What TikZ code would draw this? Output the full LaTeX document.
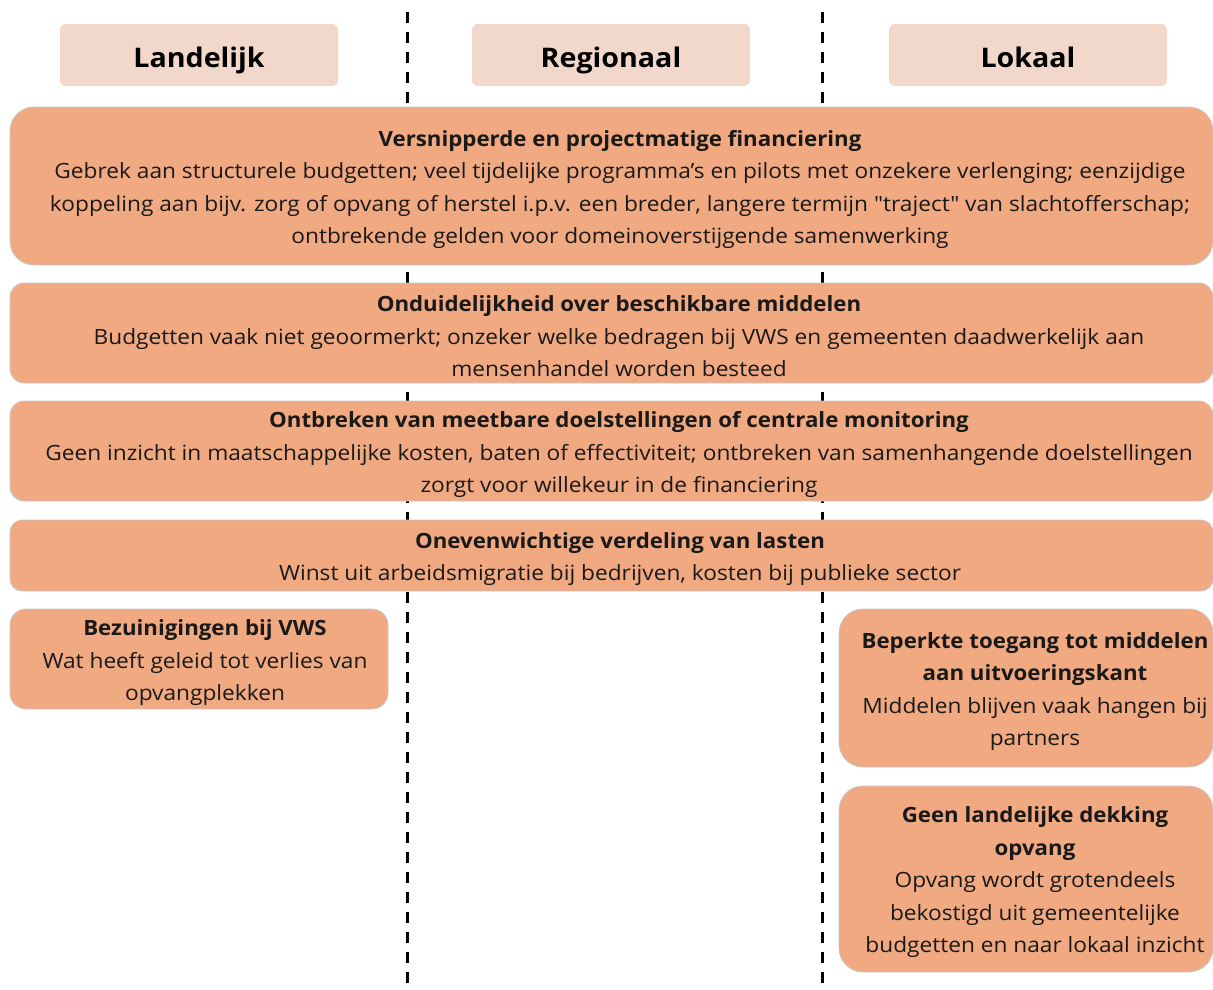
\documentclass[tikz,border=0pt]{standalone}
\usepackage{fontspec}
\setmainfont{Open Sans}[Ligatures=TeXOff,FakeStretch=1.08,BoldFeatures={FakeStretch=1.06}]
\definecolor{boxfill}{HTML}{F1A982}
\definecolor{headfill}{HTML}{F2D8CB}
\definecolor{boxline}{HTML}{C8C8C8}
\tikzset{head/.style={fill=headfill,rounded corners=6pt,minimum width=278pt,minimum height=62pt,text height=28pt,text depth=4pt,font=\fontsize{27}{32}\selectfont\bfseries}}
\tikzset{bar/.style={fill=boxfill,draw=boxline,line width=0.8pt,inner sep=0pt,rounded corners=#1}}
\tikzset{bartext/.style={align=center,inner sep=0pt,text=black!90,font=\fontsize{21}{32.5}\selectfont}}
\tikzset{divider/.style={draw,line width=3pt,dash pattern=on 11pt off 9pt}}

\begin{document}
\begin{tikzpicture}[x=1pt,y=-1pt]
    \useasboundingbox (0,0) rectangle (1213,990);

    % kolomgrenzen
    \foreach \x in {407,822}{
      \draw[divider] (\x,12) -- (\x,990);
    }

    % kolomkoppen
    \node[head] (landelijk) at (199,55) {Landelijk};
    \node[head] (regionaal) at (611,55) {Regionaal};
    \node[head] (lokaal) at (1028,55) {Lokaal};

    % brede balken over alle niveaus
    \node[bar=24pt,minimum width=1203pt,minimum height=158pt] (versnipperd) at (611.5,186) {};
    \node[bartext] (versnipperd-t) at (620,189.5) {\textbf{Versnipperde en projectmatige financiering}\\
      Gebrek aan structurele budgetten; veel tijdelijke programma’s en pilots met onzekere verlenging; eenzijdige\\
      koppeling aan bijv. zorg of opvang of herstel i.p.v. een breder, langere termijn "traject" van slachtofferschap;\\
      ontbrekende gelden voor domeinoverstijgende samenwerking};

    \node[bar=14pt,minimum width=1203pt,minimum height=100pt] (middelen) at (611.5,333) {};
    \node[bartext] (middelen-t) at (619,336.5) {\textbf{Onduidelijkheid over beschikbare middelen}\\
      Budgetten vaak niet geoormerkt; onzeker welke bedragen bij VWS en gemeenten daadwerkelijk aan\\
      mensenhandel worden besteed};

    \node[bar=14pt,minimum width=1203pt,minimum height=100pt] (doelen) at (611.5,451) {};
    \node[bartext] (doelen-t) at (619,454.5) {\textbf{Ontbreken van meetbare doelstellingen of centrale monitoring}\\
      Geen inzicht in maatschappelijke kosten, baten of effectiviteit; ontbreken van samenhangende doelstellingen\\
      zorgt voor willekeur in de financiering};

    \node[bar=12pt,minimum width=1203pt,minimum height=71pt] (lasten) at (611.5,555.5) {};
    \node[bartext] (lasten-t) at (620,559) {\textbf{Onevenwichtige verdeling van lasten}\\
      Winst uit arbeidsmigratie bij bedrijven, kosten bij publieke sector};

    % landelijk
    \node[bar=16pt,minimum width=378pt,minimum height=100pt] (vws) at (199,659) {};
    \node[bartext] (vws-t) at (205,663) {\textbf{Bezuinigingen bij VWS}\\
      Wat heeft geleid tot verlies van\\ opvangplekken};

    % lokaal
    \node[bar=24pt,minimum width=374pt,minimum height=158pt] (toegang) at (1026,688) {};
    \node[bartext] (toegang-t) at (1035,691.5) {\textbf{Beperkte toegang tot middelen}\\
      \textbf{aan uitvoeringskant}\\ Middelen blijven vaak hangen bij\\ partners};

    \node[bar=24pt,minimum width=374pt,minimum height=186pt] (dekking) at (1026,879) {};
    \node[bartext] (dekking-t) at (1035,882.5) {\textbf{Geen landelijke dekking}\\
      \textbf{opvang}\\ Opvang wordt grotendeels\\ bekostigd uit gemeentelijke\\ budgetten en naar lokaal inzicht};
\end{tikzpicture}
\end{document}
